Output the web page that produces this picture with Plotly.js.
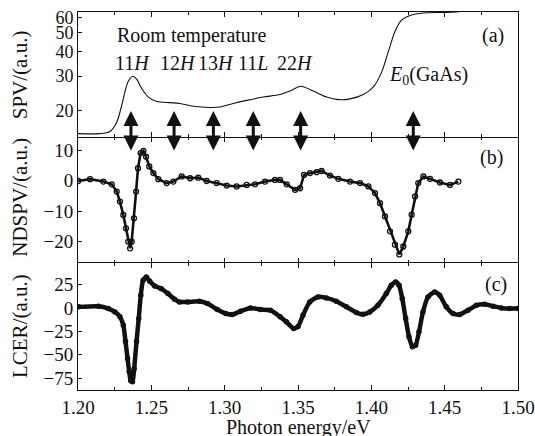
<!DOCTYPE html>
<html>
<head>
<meta charset="utf-8">
<script src="https://cdn.plot.ly/plotly-3.0.1.min.js"></script>
<style>html,body{margin:0;padding:0;background:#fff;}#chart{width:535px;height:436px;}</style>
</head>
<body>
<div id="chart"></div>
<script>
// Panel (a): SPV (log scale)
const spvE = [1.2000,1.2150,1.2218,1.2264,1.2298,1.2320,1.2343,1.2373,1.2400,1.2434,1.2480,1.2536,1.2627,1.2695,1.2786,1.2900,1.2968,1.3059,1.3150,1.3264,1.3377,1.3445,1.3518,1.3604,1.3695,1.3775,1.3855,1.3945,1.4014,1.4071,1.4116,1.4161,1.4207,1.4264,1.4354,1.4514,1.4600];
const spvV = [15.2,15.2,15.6,17.4,21.2,24.9,28.2,29.9,28.9,25.9,23.4,22.2,21.9,21.7,21.0,20.7,20.8,21.7,22.5,23.4,24.1,25.1,26.6,25.1,23.4,22.7,22.9,24.1,26.4,31.5,40.0,50.7,58.2,61.3,63.1,63.5,64.0];

// Panel (b): NDSPV
const ndE = [1.2002,1.2082,1.2173,1.2230,1.2264,1.2286,1.2309,1.2327,1.2343,1.2355,1.2366,1.2382,1.2396,1.2409,1.2427,1.2446,1.2464,1.2486,1.2514,1.2548,1.2605,1.2650,1.2707,1.2764,1.2820,1.2877,1.2945,1.3014,1.3082,1.3150,1.3207,1.3275,1.3343,1.3377,1.3423,1.3480,1.3514,1.3541,1.3582,1.3627,1.3661,1.3718,1.3775,1.3855,1.3923,1.3980,1.4025,1.4059,1.4093,1.4127,1.4161,1.4191,1.4218,1.4252,1.4275,1.4298,1.4320,1.4355,1.4400,1.4468,1.4536,1.4593];
const ndV = [-0.1,0.5,-0.3,-1.2,-3.6,-6.9,-11.3,-15.7,-20.1,-22.3,-20.1,-12.4,-3.6,4.1,9.1,9.8,7.9,4.7,2.5,0.5,-0.8,-0.3,1.4,0.8,1.0,-0.1,-0.8,-1.6,-1.9,-1.4,-1.2,-0.3,0.25,0.25,-1.2,-3.0,-2.5,1.9,2.5,2.8,3.2,1.7,0.6,-0.3,-0.8,-1.9,-4.1,-7.4,-11.8,-16.7,-21.1,-24.3,-21.7,-16.7,-11.2,-5.2,-0.8,1.4,0.6,-0.6,-1.4,-0.3];

// Panel (c): LCER
const lcE = [1.2005,1.2140,1.2207,1.2252,1.2286,1.2309,1.2324,1.2338,1.2349,1.2360,1.2372,1.2383,1.2399,1.2414,1.2428,1.2444,1.2466,1.2489,1.2523,1.2568,1.2613,1.2658,1.2691,1.2748,1.2827,1.2883,1.2950,1.3007,1.3052,1.3108,1.3176,1.3243,1.3311,1.3378,1.3420,1.3470,1.3500,1.3534,1.3580,1.3636,1.3693,1.3761,1.3830,1.3898,1.3943,1.3989,1.4045,1.4102,1.4136,1.4166,1.4189,1.4211,1.4234,1.4257,1.4280,1.4302,1.4325,1.4352,1.4386,1.4432,1.4466,1.4511,1.4557,1.4602,1.4659,1.4716,1.4773,1.4830,1.4886,1.4943,1.5000];
const lcV = [1.1,1.8,-0.7,-4.3,-9.6,-18.5,-36,-54,-68,-78,-79,-65,-36,-11.4,13.5,29.5,33,28.4,23.5,20.6,15.3,9.3,6.4,6.4,7.1,4.6,-1.8,-6,-7.1,-3.6,0,-1.8,-2.5,-9.6,-14.9,-22,-20,-7.8,6.4,11.7,10.7,7.1,1.1,-5,-6.8,-4.3,2.8,15.3,24.2,27.8,24.2,10,-11.4,-31,-41.6,-39.9,-25.6,-4.3,11.7,17.1,13.5,1.1,-6,-7.1,-2.5,2.8,3.9,1.8,0,-0.7,-0.7];

// Arrow energies (double arrows)
const arrowE = [1.2361,1.2655,1.2923,1.3195,1.3518,1.4286];

// Tick labels
const xTicks = [1.20,1.25,1.30,1.35,1.40,1.45,1.50];
const spvTicks = [20,30,40,50,60];
const ndTicks = [10,0,-10,-20];
const lcTicks = [25,0,-25,-50,-75];

const FONT = 'Liberation Serif, Times New Roman, serif';

const traces = [
  {x: spvE, y: spvV, xaxis: 'x3', yaxis: 'y3', mode: 'lines', line: {color: '#111', width: 1.1, shape: 'spline', smoothing: 0.8}, showlegend: false},
  {x: ndE, y: ndV, xaxis: 'x2', yaxis: 'y2', mode: 'lines+markers', line: {color: '#111', width: 2.6}, marker: {symbol: 'circle-open', size: 5, color: '#111', line: {width: 1.3, color: '#111'}}, showlegend: false},
  {x: lcE, y: lcV, xaxis: 'x', yaxis: 'y', mode: 'lines+markers', line: {color: '#111', width: 4.5, shape: 'spline', smoothing: 0.6}, marker: {symbol: 'circle', size: 5.5, color: '#111'}, showlegend: false}
];

function xax(anchor, labels, line) {
  return {
    anchor: anchor, domain: [0, 1], range: [1.2, 1.5],
    tickvals: xTicks, tickformat: '.2f', showticklabels: labels,
    ticks: 'inside', ticklen: 5, tickwidth: 1, tickcolor: '#111',
    minor: {dtick: 0.025, ticks: 'inside', ticklen: 3, tickcolor: '#111'},
    showline: line, linecolor: '#111', linewidth: 1, mirror: 'ticks',
    showgrid: false, zeroline: false,
    tickfont: {family: FONT, size: 19, color: '#111'}
  };
}
function yax(domain, range, ticks, type, fs) {
  const o = {
    domain: domain, range: range, tickvals: ticks,
    ticks: 'inside', ticklen: 4, tickwidth: 1, tickcolor: '#111',
    showline: true, linecolor: '#111', linewidth: 1, mirror: true,
    showgrid: false, zeroline: false,
    tickfont: {family: FONT, size: fs || 19, color: '#111'}
  };
  if (type) o.type = type;
  return o;
}

const ann = [];
function txt(text, x, y, size, xanchor, angle) {
  ann.push({text: text, xref: 'paper', yref: 'paper', x: x, y: y, xanchor: xanchor || 'left', yanchor: 'middle',
    showarrow: false, textangle: angle || 0, font: {family: FONT, size: size, color: '#111'}});
}
txt('Room temperature', 0.084, 0.939, 20);
txt('11<i>H</i>', 0.0795, 0.865, 20);
txt('12<i>H</i>', 0.1818, 0.865, 20);
txt('13<i>H</i>', 0.268, 0.865, 20);
txt('11<i>L</i>', 0.359, 0.865, 20);
txt('22<i>H</i>', 0.448, 0.865, 20);
txt('<i>E</i><sub>0</sub>(GaAs)', 0.702, 0.833, 20);
txt('(a)', 0.9136, 0.939, 20);
txt('(b)', 0.909, 0.616, 20);
txt('(c)', 0.920, 0.280, 20);
txt('SPV/(a.u.)', -0.132, 0.835, 21, 'center', -90);
txt('NDSPV/(a.u.)', -0.132, 0.511, 21, 'center', -90);
txt('LCER/(a.u.)', -0.132, 0.169, 21, 'center', -90);
txt('Photon energy/eV', 0.5, -0.1005, 20, 'center');

arrowE.forEach(function(e) {
  ann.push({text: '', xref: 'x', yref: 'paper', x: e, y: 0.738, axref: 'pixel', ayref: 'pixel', ax: 0, ay: 41,
    showarrow: true, arrowside: 'end+start', arrowhead: 2, arrowsize: 1, arrowwidth: 3, arrowcolor: '#111', standoff: 0, startstandoff: 0});
});

const layout = {
  width: 535, height: 436,
  margin: {l: 78, r: 17, t: 12, b: 46},
  paper_bgcolor: '#fff', plot_bgcolor: '#fff',
  showlegend: false,
  xaxis: xax('y', true, true),
  xaxis2: Object.assign(xax('y2', false, false), {matches: 'x'}),
  xaxis3: Object.assign(xax('y3', false, true), {matches: 'x'}),
  yaxis: yax([0, 0.3347], [-87.8, 47.5], lcTicks),
  yaxis2: yax([0.3347, 0.6685], [-27.3, 14.3], ndTicks),
  yaxis3: yax([0.6685, 1], [1.163, 1.805], spvTicks, 'log', 18),
  annotations: ann
};

Plotly.newPlot('chart', traces, layout, {staticPlot: true});
</script>
</body>
</html>
